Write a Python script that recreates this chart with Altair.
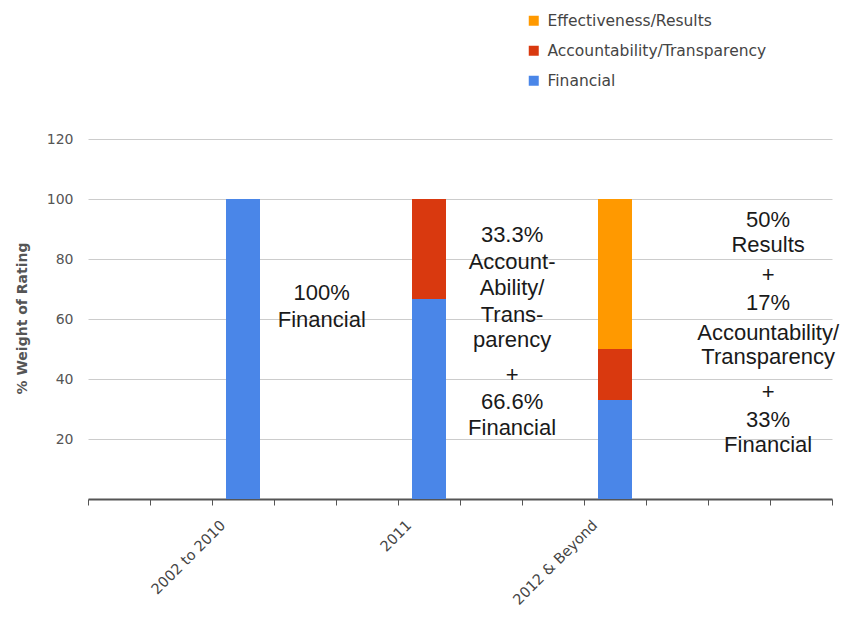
import altair as alt
import pandas as pd

# ---- data ----
categories = ["2002 to 2010", "2011", "2012 & Beyond"]
financial = [100, 66.7, 33]
accountability = [0, 33.3, 17]
results = [0, 0, 50]

series_names = ["Effectiveness/Results", "Accountability/Transparency", "Financial"]
series_colors = ["#FF9900", "#D9390F", "#4A86E8"]

y_ticks = [20, 40, 60, 80, 100, 120]

# annotation lines: text, x slot, y value
note_text = ["100%", "Financial",
             "33.3%", "Account-", "Ability/", "Trans-", "parency", "+", "66.6%", "Financial",
             "50%", "Results", "+", "17%", "Accountability/", "Transparency", "+", "33%", "Financial"]
note_x = [3.77, 3.77,
          6.84, 6.84, 6.84, 6.84, 6.84, 6.84, 6.84, 6.84,
          10.97, 10.97, 10.97, 10.97, 10.97, 10.97, 10.97, 10.97, 10.97]
note_y = [68.7, 59.7,
          88, 79, 70.3, 61.3, 53, 41.3, 32.3, 23.7,
          93, 84.7, 74.7, 65.3, 55.3, 47.3, 35.7, 26.3, 18]

rows = []
for i, c in enumerate(categories):
    for s, vals, o in [("Financial", financial, 0),
                       ("Accountability/Transparency", accountability, 1),
                       ("Effectiveness/Results", results, 2)]:
        rows.append(dict(category=c, idx=i, series=s, value=vals[i], order=o))
df = pd.DataFrame(rows)
notes_df = pd.DataFrame(dict(t=note_text, x=note_x, y=note_y))

x_scale = alt.Scale(domain=[0, 12], nice=False, zero=False, padding=0)
y_scale = alt.Scale(domain=[0, 120], nice=False)

label_expr = " : ".join(
    f"datum.value == {3 * i + 2} ? '{c}'" for i, c in enumerate(categories)
) + " : ''"

x_axis = alt.Axis(
    values=list(range(13)), labelExpr=label_expr, labelAngle=315,
    labelAlign="right", labelBaseline="middle", labelOffset=11,
    labelPadding=18, labelOverlap=False, labelBound=False, labelFlush=False,
    grid=False, domainColor="#555555", domainWidth=2, tickColor="#555555",
    tickSize=6, tickWidth=1, labelFont="DejaVu Sans", labelFontSize=14.5,
    labelColor="#444444", title="")
y_axis = alt.Axis(
    values=y_ticks, grid=True, gridColor="#cccccc", gridWidth=1,
    domain=False, ticks=False, labelPadding=15, labelFont="DejaVu Sans",
    labelFontSize=14, labelColor="#555555",
    title="% Weight of Rating", titleFont="DejaVu Sans", titleFontSize=14,
    titleFontWeight="bold", titleColor="#555555", titleX=-66, titleY=179,
    titleAngle=270, titleAlign="center", titleBaseline="middle")

bars = alt.Chart(df).transform_calculate(
    pos="datum.idx * 3 + 2.5"
).mark_bar(size=34).encode(
    x=alt.X("pos:Q", scale=x_scale, axis=x_axis),
    y=alt.Y("value:Q", stack="zero", scale=y_scale, axis=y_axis),
    color=alt.Color("series:N", scale=alt.Scale(domain=series_names, range=series_colors),
                    legend=alt.Legend(title=None, orient="none", legendX=438, legendY=-126,
                                      symbolType="square", symbolSize=100, symbolStrokeWidth=0,
                                      labelFont="DejaVu Sans", labelFontSize=15.5, labelLimit=400,
                                      labelColor="#444444", rowPadding=13, labelOffset=6,
                                      padding=0)),
    order=alt.Order("order:Q"),
)

notes = alt.Chart(notes_df).mark_text(
    font="Liberation Sans", fontSize=22, color="#1a1a1a", align="center", baseline="middle"
).encode(
    x=alt.X("x:Q", scale=x_scale, axis=x_axis),
    y=alt.Y("y:Q", scale=y_scale, axis=y_axis),
    text="t:N",
)

chart = alt.layer(bars, notes).properties(
    width=744, height=360,
    padding={"left": 88, "top": 139, "right": 9, "bottom": 118},
    autosize=alt.AutoSizeParams(type="none"),
    background="white",
).configure_view(stroke=None)

chart.save("out.html", embed_options={"renderer": "svg", "actions": False})
